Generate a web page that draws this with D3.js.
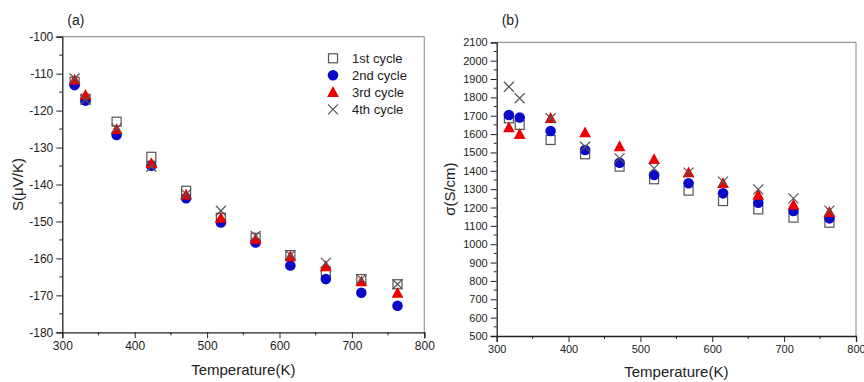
<!DOCTYPE html>
<html>
<head>
<meta charset="utf-8">
<script src="https://cdn.jsdelivr.net/npm/d3@7"></script>
<style>
  html, body { margin: 0; padding: 0; background: #fff; }
  svg { display: block; font-family: "Liberation Sans", Arial, sans-serif; }
</style>
</head>
<body>
<svg id="chart" width="864" height="382"></svg>
<script>
// ---- Data ----
const temperature = [317, 332, 375, 423, 471, 519, 567, 615, 664, 713, 763];
const seriesNames = ["1st cycle", "2nd cycle", "3rd cycle", "4th cycle"];

// Panel (a): Seebeck coefficient S (µV/K)
const seebeck1 = [-112.2, -116.8, -123.0, -132.5, -141.7, -149.0, -154.4, -159.1, -163.6, -165.6, -167.0];
const seebeck2 = [-113.1, -117.3, -126.6, -134.9, -143.7, -150.3, -155.7, -161.9, -165.6, -169.3, -172.8];
const seebeck3 = [-111.7, -115.8, -125.1, -134.3, -142.8, -149.1, -154.8, -159.5, -162.2, -166.3, -169.4];
const seebeck4 = [-111.3, -117.1, -124.8, -135.2, -142.6, -147.1, -153.9, -159.1, -161.2, -165.6, -167.0];

// Panel (b): electrical conductivity σ (S/cm)
const sigma1 = [1686, 1650, 1568, 1490, 1423, 1354, 1292, 1235, 1190, 1145, 1117];
const sigma2 = [1704, 1690, 1617, 1513, 1444, 1377, 1332, 1277, 1226, 1181, 1141];
const sigma3 = [1635, 1599, 1686, 1608, 1532, 1462, 1390, 1332, 1268, 1214, 1174];
const sigma4 = [1858, 1795, 1686, 1531, 1468, 1413, 1390, 1341, 1299, 1250, 1183];

const xTicks = [300, 400, 500, 600, 700, 800];
const yTicksA = [-100, -110, -120, -130, -140, -150, -160, -170, -180];
const yTicksB = [500, 600, 700, 800, 900, 1000, 1100, 1200, 1300, 1400, 1500, 1600, 1700, 1800, 1900, 2000, 2100];

// ---- Drawing ----
const svg = d3.select("#chart");
const symbolTypes = ["square", "circle", "triangle", "cross"];
const fmt = d => String(d);

function drawMarker(g, type, x, y) {
  if (type === "square") {
    g.append("rect").attr("x", x - 4.5).attr("y", y - 4.5).attr("width", 9).attr("height", 9)
      .attr("fill", "#fff").attr("fill-opacity", 0).attr("stroke", "#555").attr("stroke-width", 1.2);
  } else if (type === "circle") {
    g.append("circle").attr("cx", x).attr("cy", y).attr("r", 5.3).attr("fill", "#0a0ac8");
  } else if (type === "triangle") {
    const s = 6.2;
    g.append("path").attr("d", `M${x},${y - s} L${x + s * 0.95},${y + s * 0.75} L${x - s * 0.95},${y + s * 0.75} Z`)
      .attr("fill", "#ee0000");
  } else {
    const s = 5;
    g.append("path").attr("d", `M${x - s},${y - s} L${x + s},${y + s} M${x - s},${y + s} L${x + s},${y - s}`)
      .attr("stroke", "#555").attr("stroke-width", 1.2).attr("fill", "none");
  }
}

function panel(opts) {
  const { left, right, top, bottom, yDomain, yTicks, yMinorStep, series, label, yTitle, tickFont, yTitleX, xTitleY } = opts;
  const x = d3.scaleLinear().domain([300, 800]).range([left, right]);
  const y = d3.scaleLinear().domain(yDomain).range([bottom, top]);
  const g = svg.append("g");

  // frame (top & right lighter)
  g.append("line").attr("x1", left).attr("x2", right).attr("y1", top).attr("y2", top).attr("stroke", "#999").attr("stroke-width", 1.2);
  g.append("line").attr("x1", right).attr("x2", right).attr("y1", top).attr("y2", bottom).attr("stroke", "#999").attr("stroke-width", 1.2);

  // x axis
  const xMinor = d3.range(350, 800, 100);
  const xAxis = d3.axisBottom(x).tickValues(xTicks).tickSize(6).tickPadding(3).tickFormat(fmt);
  const gx = g.append("g").attr("transform", `translate(0,${bottom})`).call(xAxis);
  gx.selectAll(".tick line").attr("stroke", "#222");
  gx.select(".domain").attr("stroke", "#222").attr("stroke-width", 1.3);
  gx.selectAll("text").attr("font-size", tickFont).attr("fill", "#222").attr("font-family", "Liberation Sans, Arial, sans-serif");
  g.append("g").selectAll("line").data(xMinor).join("line")
    .attr("x1", d => x(d)).attr("x2", d => x(d)).attr("y1", bottom).attr("y2", bottom + 3).attr("stroke", "#222");

  // y axis
  const yMinor = d3.range(yDomain[0] + yMinorStep, yDomain[1], yMinorStep * 2);
  const yAxis = d3.axisLeft(y).tickValues(yTicks).tickSize(6).tickPadding(3).tickFormat(fmt);
  const gy = g.append("g").attr("transform", `translate(${left},0)`).call(yAxis);
  gy.selectAll(".tick line").attr("stroke", "#222");
  gy.select(".domain").attr("stroke", "#222").attr("stroke-width", 1.3);
  gy.selectAll("text").attr("font-size", tickFont).attr("fill", "#222").attr("font-family", "Liberation Sans, Arial, sans-serif");
  g.append("g").selectAll("line").data(yMinor).join("line")
    .attr("x1", left - 3).attr("x2", left).attr("y1", d => y(d)).attr("y2", d => y(d)).attr("stroke", "#222");

  // data
  series.forEach((vals, si) => {
    const sg = g.append("g");
    vals.forEach((v, i) => drawMarker(sg, symbolTypes[si], x(temperature[i]), y(v)));
  });

  // labels
  g.append("text").attr("x", left + 5).attr("y", 25).attr("font-size", 14).attr("fill", "#222").text(label);
  g.append("text").attr("transform", `translate(${yTitleX},${(top + bottom) / 2}) rotate(-90)`)
    .attr("text-anchor", "middle").attr("font-size", 15).attr("fill", "#222").text(yTitle);
  g.append("text").attr("x", (left + right) / 2).attr("y", xTitleY).attr("text-anchor", "middle")
    .attr("font-size", 15).attr("fill", "#222").text("Temperature(K)");
  return { x, y };
}

panel({
  left: 62.3, right: 424.3, top: 36.7, bottom: 332.3,
  yDomain: [-180, -100], yTicks: yTicksA, yMinorStep: 5,
  series: [seebeck1, seebeck2, seebeck3, seebeck4],
  label: "(a)", yTitle: "S(μV/K)", tickFont: 12, yTitleX: 23, xTitleY: 375
});

panel({
  left: 496.7, right: 856, top: 42.3, bottom: 336,
  yDomain: [500, 2100], yTicks: yTicksB, yMinorStep: 50,
  series: [sigma1, sigma2, sigma3, sigma4],
  label: "(b)", yTitle: "σ(S/cm)", tickFont: 11, yTitleX: 455, xTitleY: 377
});

// legend (panel a)
const legend = svg.append("g");
seriesNames.forEach((name, i) => {
  const ly = 58.3 + i * 17;
  drawMarker(legend, symbolTypes[i], 333, ly);
  legend.append("text").attr("x", 352).attr("y", ly + 4.5).attr("font-size", 13).attr("fill", "#222").text(name);
});
</script>
</body>
</html>
